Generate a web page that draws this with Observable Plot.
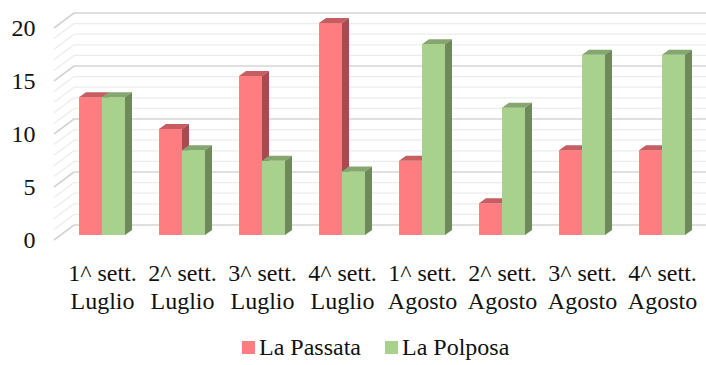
<!DOCTYPE html>
<html>
<head>
<meta charset="utf-8">
<script src="https://cdn.jsdelivr.net/npm/d3@7"></script>
<script src="https://cdn.jsdelivr.net/npm/@observablehq/plot@0.6"></script>
<style>
  html, body { margin: 0; padding: 0; background: #fff; }
  #chart { width: 706px; height: 365px; overflow: hidden; font-family: "Liberation Serif", "Times New Roman", serif; }
  #chart svg text { font-family: "Liberation Serif", "Times New Roman", serif !important; }
  #legend { height: 35px; display: flex; align-items: center; padding-left: 242px; box-sizing: border-box; }
  #legend, #legend * { font-family: "Liberation Serif", "Times New Roman", serif !important; }
  #legend .lg-swatches { font-size: 24px !important; color: #111 !important; margin: 0 !important; min-height: 35px !important; display: flex; align-items: center; }
  #legend .lg-swatch { margin-right: 24px !important; display: inline-flex; align-items: center; }
  #legend .lg-swatch svg { margin-right: 4px !important; }
</style>
</head>
<body>
<div id="chart"></div>
<script>
// ---- data ----
const weeks = [
  "1^ sett.\nLuglio", "2^ sett.\nLuglio", "3^ sett.\nLuglio", "4^ sett.\nLuglio",
  "1^ sett.\nAgosto", "2^ sett.\nAgosto", "3^ sett.\nAgosto", "4^ sett.\nAgosto"
];
const series = ["La Passata", "La Polposa"];
const passata = [13, 10, 15, 20, 7, 3, 8, 8];
const polposa = [13, 8, 7, 6, 18, 12, 17, 17];
const yTicks = [0, 5, 10, 15, 20];
const gridValues = d3.range(0, 21, 1);

// ---- styles ----
const FONT = '"Liberation Serif", "Times New Roman", serif';
const faces = {
  "La Passata": {front: "#FF7C80", top: "#C65D61", side: "#A64C50"},
  "La Polposa": {front: "#A9D18E", top: "#86A670", side: "#6D8A58"}
};
const wall = {dx: 20, dy: -15};       // depth of the 3D box
const barPlane = {dx: 0, dy: -5};     // bars sit a bit behind the front plane
const barDepth = {dx: 7, dy: -5};     // depth of each bar

const NS = "http://www.w3.org/2000/svg";
function el(name, attrs) {
  const e = document.createElementNS(NS, name);
  for (const k in attrs) e.setAttribute(k, attrs[k]);
  return e;
}

// Back wall + left wall gridlines
const walls = Plot.ruleY(gridValues, {
  y: d => d,
  render(index, scales, values, dims) {
    const g = el("g", {fill: "none"});
    const x0 = dims.marginLeft;
    const xBack = x0 + wall.dx;
    const xRight = dims.width - dims.marginRight + wall.dx;
    for (const i of index) {
      const v = gridValues[i];
      const y = values.y[i];
      const major = v % 5 === 0;
      const stroke = major ? "#D4D4D4" : "#ECECEC";
      const sw = major ? 1.6 : 1.3;
      g.appendChild(el("line", {x1: x0, y1: y, x2: xBack, y2: y + wall.dy, stroke, "stroke-width": sw}));
      g.appendChild(el("line", {x1: xBack, y1: y + wall.dy, x2: xRight, y2: y + wall.dy, stroke, "stroke-width": sw}));
    }
    return g;
  }
});

// 3D bars: front face + top face + side face, each from the x/y scales
function bar3d(vals, name, part) {
  const c = faces[name];
  return Plot.barY(weeks, {
    x: d => d,
    y: (d, i) => vals[i],
    fill: c.front,
    render(index, scales, values) {
      const g = el("g", {transform: `translate(${barPlane.dx},${barPlane.dy})`});
      const bw = scales.x.bandwidth() / 2;
      for (const i of index) {
        const x = values.x[i] + part * bw;
        const yTop = Math.min(values.y1[i], values.y2[i]);
        const yBot = Math.max(values.y1[i], values.y2[i]);
        const ddx = barDepth.dx, ddy = barDepth.dy;
        g.appendChild(el("rect", {x, y: yTop, width: bw, height: yBot - yTop, fill: c.front}));
        g.appendChild(el("polygon", {
          points: `${x},${yTop} ${x + ddx},${yTop + ddy} ${x + bw + ddx},${yTop + ddy} ${x + bw},${yTop}`,
          fill: c.top
        }));
        g.appendChild(el("polygon", {
          points: `${x + bw},${yTop} ${x + bw + ddx},${yTop + ddy} ${x + bw + ddx},${yBot + ddy} ${x + bw},${yBot}`,
          fill: c.side
        }));
      }
      return g;
    }
  });
}

const chart = Plot.plot({
  width: 706,
  height: 330,
  marginLeft: 54,
  marginRight: 20,
  marginTop: 28,
  marginBottom: 90,
  style: {fontFamily: FONT, fontSize: "24px", color: "#111", background: "#fff", overflow: "visible"},
  x: {domain: weeks, range: [62, 702.7], paddingInner: 0.427, paddingOuter: 0.203},
  y: {domain: [0, 20], range: [240, 28]},
  marks: [
    walls,
    bar3d(passata, "La Passata", 0),
    bar3d(polposa, "La Polposa", 1),
    Plot.axisY(yTicks, {tickSize: 0, tickPadding: 19, fontSize: 24, label: null}),
    Plot.axisX({tickSize: 0, tickPadding: 20, fontSize: 24, lineHeight: 1.19, label: null})
  ]
});

const legend = Plot.legend({
  color: {type: "ordinal", domain: series, range: series.map(s => faces[s].front)},
  swatchSize: 13,
  className: "lg",
  style: {fontFamily: FONT, fontSize: "24px"}
});

const root = document.getElementById("chart");
root.appendChild(chart);
const lg = document.createElement("div");
lg.id = "legend";
lg.appendChild(legend);
root.appendChild(lg);
</script>
</body>
</html>
